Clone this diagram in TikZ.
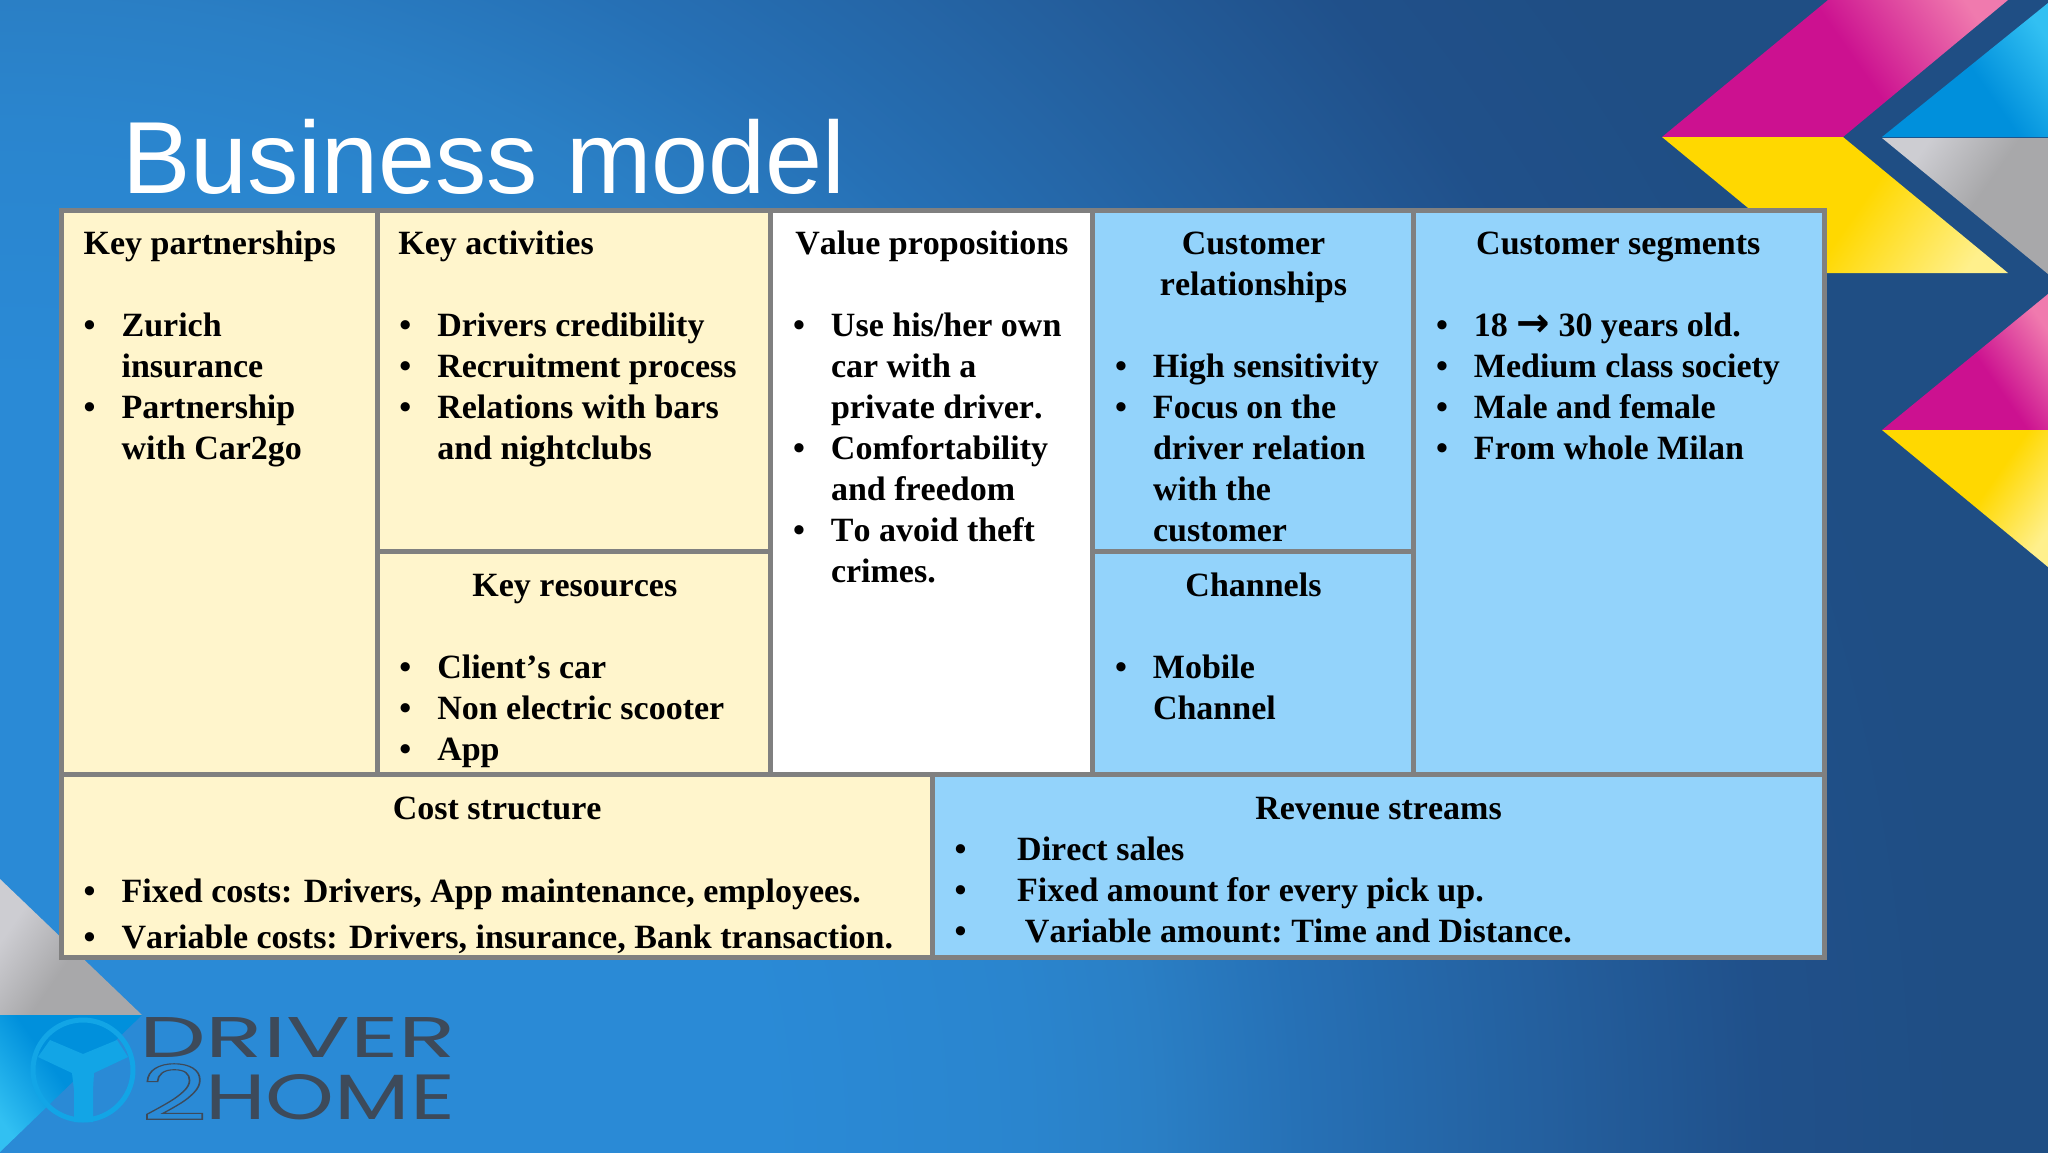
\documentclass[tikz,border=0pt]{standalone}
\usepackage{fontspec}
\usepackage{graphicx}
\setmainfont[RawFeature=-kern]{Liberation Serif}
\newfontfamily\titlefont{Liberation Sans}
\newfontfamily\logofont{Poppins}
\newfontfamily\arrowfont{DejaVu Sans}
\definecolor{cellY}{HTML}{FFF5CC}
\definecolor{cellB}{HTML}{93D3FB}
\definecolor{rule}{HTML}{808080}
\definecolor{logoD}{HTML}{3D4A5A}
\definecolor{wheel}{HTML}{12A5E6}
\definecolor{mg}{HTML}{CC1190}\definecolor{mgL}{HTML}{F07AAE}
\definecolor{yl}{HTML}{FFD800}\definecolor{ylL}{HTML}{FFF08C}
\definecolor{bl}{HTML}{0090DC}\definecolor{blL}{HTML}{32C0F2}
\definecolor{gr}{HTML}{A8A8AA}\definecolor{grL}{HTML}{CDCDD2}
\definecolor{bgA}{HTML}{2A8AD6}\definecolor{bgB}{HTML}{2A85CE}\definecolor{bgC}{HTML}{2A7FC5}
\definecolor{bgD}{HTML}{2670B5}\definecolor{bgE}{HTML}{24609F}\definecolor{bgF}{HTML}{20508A}\definecolor{bgG}{HTML}{1F4E84}
\pgfdeclareradialshading{bgradial}{\pgfpointorigin}{color(0bp)=(bgA); color(8bp)=(bgA); color(10.7bp)=(bgB); color(12bp)=(bgC); color(13.6bp)=(bgD); color(16bp)=(bgE); color(18.4bp)=(bgF); color(20.4bp)=(bgG); color(50bp)=(bgG)}
\pgfdeclarehorizontalshading{mgshade}{100bp}{color(0bp)=(mg); color(54bp)=(mg); color(78bp)=(mgL); color(100bp)=(mgL)}
\pgfdeclarehorizontalshading{ylshade}{100bp}{color(0bp)=(yl); color(54bp)=(yl); color(78bp)=(ylL); color(100bp)=(ylL)}
\pgfdeclarehorizontalshading{blshade}{100bp}{color(0bp)=(bl); color(52bp)=(bl); color(78bp)=(blL); color(100bp)=(blL)}
\pgfdeclarehorizontalshading{grshade}{100bp}{color(0bp)=(grL); color(28bp)=(grL); color(52bp)=(gr); color(100bp)=(gr)}
\newcommand\Z{\rule{0pt}{28pt}}
\newcommand\bu[1]{\makebox[38pt][l]{•}#1}
\newcommand\ct[1]{\hspace*{38pt}#1}
\tikzset{
  cell/.style={draw=rule,line width=5pt,anchor=north west,inner sep=0,outer sep=0},
  txt/.style={inner sep=0,outer sep=0,text=black,font=\fontsize{34}{40.9}\selectfont\bfseries\frenchspacing},
  lefttxt/.style={txt,anchor=north west,align=left},
  midtxt/.style={txt,anchor=north,align=center},
}
\begin{document}
\begin{tikzpicture}[x=1pt,y=-1pt]
\useasboundingbox (0,0) rectangle (2048,1152);
% background
\begin{scope}
\clip (0,0) rectangle (2048,1152);
\shade[shading=bgradial] (0,1152) circle (2400);
\end{scope}
% decorative corner shapes
\shade[shading=mgshade,shading angle=35] (1662,137) -- (1843,137) -- (2008,0) -- (1828,0) -- cycle;
\shade[shading=ylshade,shading angle=-35] (1662,137) -- (1843,137) -- (2008,273) -- (1827,273) -- cycle;
\shade[shading=blshade,shading angle=35] (1882,137) -- (2048,137) -- (2048,3) -- cycle;
\shade[shading=grshade,shading angle=-35] (1882,138) -- (2048,138) -- (2048,274) -- cycle;
\shade[shading=mgshade,shading angle=35] (1882,430) -- (2048,430) -- (2048,294) -- cycle;
\shade[shading=ylshade,shading angle=-35] (1882,430) -- (2048,430) -- (2048,567) -- cycle;
\shade[shading=grshade,shading angle=-35] (0,879) -- (142,1015) -- (0,1015) -- cycle;
\shade[shading=blshade,shading angle=215] (0,1015) -- (142,1015) -- (0,1152) -- cycle;
% title
\node[anchor=base west,inner sep=0,text=white,font=\fontsize{102.5}{110}\selectfont\titlefont] (title) at (122,193) {Business model};
% cells
\node[cell,fill=cellY,minimum width=316pt,minimum height=564.5pt] (kp) at (61.4,210) {};
\node[cell,fill=cellY,minimum width=393pt,minimum height=341pt] (ka) at (377.4,210) {};
\node[cell,fill=cellY,minimum width=393pt,minimum height=223.5pt] (kr) at (377.4,551) {};
\node[cell,fill=white,minimum width=321.5pt,minimum height=564.5pt] (vp) at (770.5,210) {};
\node[cell,fill=cellB,minimum width=321pt,minimum height=341pt] (cr) at (1092,210) {};
\node[cell,fill=cellB,minimum width=321pt,minimum height=223.5pt] (ch) at (1092,551) {};
\node[cell,fill=cellB,minimum width=411.5pt,minimum height=564.5pt] (cs) at (1413,210) {};
\node[cell,fill=cellY,minimum width=871.1pt,minimum height=182.5pt] (co) at (61.4,774.5) {};
\node[cell,fill=cellB,minimum width=892pt,minimum height=182.5pt] (rs) at (932.5,774.5) {};
% headings
\node[lefttxt] (kpT) at (83.6,226.7) {\Z Key partnerships};
\node[lefttxt] (kaT) at (398.3,226.7) {\Z Key activities};
\node[midtxt] (krT) at (574.8,568.8) {\Z Key resources};
\node[lefttxt] (vpT) at (795.4,226.7) {\Z Value propositions};
\node[midtxt] (crT) at (1253.5,226.7) {\Z Customer\\relationships};
\node[midtxt] (chT) at (1253.5,568.8) {\Z Channels};
\node[midtxt] (csT) at (1618.3,226.7) {\Z Customer segments};
\node[midtxt] (coT) at (497.2,791.7) {\Z Cost structure};
\node[midtxt] (rsT) at (1378.5,791.7) {\Z Revenue streams};
% lists
\node[lefttxt] (kpL) at (83.6,308.6) {\Z\bu{Zurich}\\\ct{insurance}\\\bu{Partnership}\\\ct{with Car2go}};
\node[lefttxt] (kaL) at (399.3,308.6) {\Z\bu{Drivers credibility}\\\bu{Recruitment process}\\\bu{Relations with bars}\\\ct{and nightclubs}};
\node[lefttxt] (krL) at (399.3,650.4) {\Z\bu{Client’s car}\\\bu{Non electric scooter}\\\bu{App}};
\node[lefttxt] (vpL) at (793,308.6) {\Z\bu{Use his/her own}\\\ct{car with a}\\\ct{private driver.}\\\bu{Comfortability}\\\ct{and freedom}\\\bu{To avoid theft}\\\ct{crimes.}};
\node[lefttxt] (crL) at (1115,349.5) {\Z\bu{High sensitivity}\\\bu{Focus on the}\\\ct{driver relation}\\\ct{with the}\\\ct{customer}};
\node[lefttxt] (chL) at (1115,650.4) {\Z\bu{Mobile}\\\ct{Channel}};
\node[lefttxt] (csL) at (1436,308.6) {\Z\bu{18 {\fontsize{40}{40.9}\selectfont\arrowfont →} 30 years old.}\\\bu{Medium class society}\\\bu{Male and female}\\\bu{From whole Milan}};
\node[lefttxt] (coL) at (83.6,874.2) {\Z\bu{\nonfrenchspacing Fixed costs: Drivers, App maintenance, employees.}\\[5.6pt]\bu{\nonfrenchspacing Variable costs: Drivers, insurance, Bank transaction.}};
\node[lefttxt] (rsL) at (954.5,832.7) {\Z\makebox[62.7pt][l]{•}Direct sales\\\makebox[62.7pt][l]{•}Fixed amount for every pick up.\\\makebox[70.5pt][l]{•}Variable amount: Time and Distance.};
% logo wheel
\draw[wheel,line width=5pt] (83,1070) circle (50);
\fill[wheel] (74,1122) -- (74,1090) -- (72,1073) -- (38,1057) -- (50,1040) -- (83,1054) -- (117,1040) -- (128,1057) -- (94,1073) -- (93,1090) -- (93,1122) -- cycle;
% logo text
\node[anchor=south west,inner sep=0,text=logoD] (logoA) at (139,1058) {\resizebox{317pt}{40pt}{\logofont DRIVER}};
\node[anchor=south west,inner sep=0,text=logoD] (logoB) at (141,1120) {\resizebox{66pt}{56pt}{\logofont\special{pdf:code 1 Tr 0.15 w}2\special{pdf:code 0 Tr}}};
\node[anchor=south west,inner sep=0,text=logoD] (logoC) at (205,1120) {\resizebox{250pt}{45pt}{\logofont HOME}};
\end{tikzpicture}
\end{document}
